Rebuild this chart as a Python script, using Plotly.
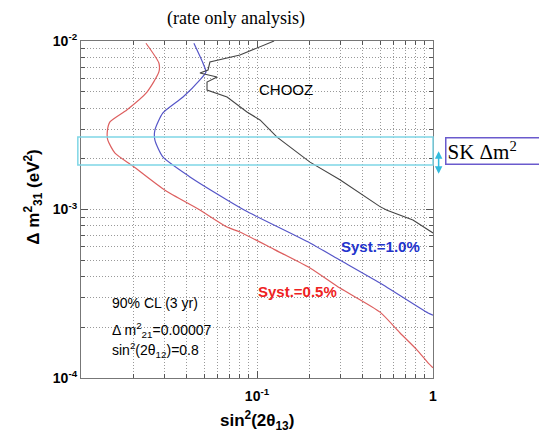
import plotly.graph_objects as go

# ---- data ----
x_red = [0.0234, 0.0277, 0.0277, 0.0237, 0.0182, 0.0146, 0.0141, 0.0142, 0.0156, 0.0197,
         0.030, 0.0474, 0.0676, 0.080, 0.125, 0.20, 0.296, 0.50, 0.65, 0.81, 0.937, 1.0]
y_red = [9.7e-3, 7.4e-3, 6.55e-3, 4.98e-3, 3.9e-3, 3.31e-3, 2.88e-3, 2.58e-3, 2.16e-3, 1.81e-3,
         1.30e-3, 9.93e-4, 7.87e-4, 7.35e-4, 5.8e-4, 4.5e-4, 3.42e-4, 2.46e-4, 1.85e-4, 1.47e-4, 1.23e-4, 1.15e-4]

x_blue = [0.0438, 0.0493, 0.0513, 0.0474, 0.038, 0.0292, 0.0263, 0.0263, 0.0292, 0.0416,
          0.0676, 0.0889, 0.20, 0.296, 0.50, 0.937, 1.0]
y_blue = [9.7e-3, 7.4e-3, 6.55e-3, 5.87e-3, 4.65e-3, 3.74e-3, 2.96e-3, 2.58e-3, 2.05e-3, 1.56e-3,
          1.14e-3, 9.66e-4, 6.33e-4, 5.01e-4, 3.66e-4, 2.43e-4, 2.36e-4]

x_chooz = [0.125, 0.080, 0.054, 0.0527, 0.0474, 0.0593, 0.052, 0.052, 0.0676, 0.0877, 0.104,
           0.130, 0.20, 0.296, 0.50, 0.548, 0.769, 1.0]
y_chooz = [1.0e-2, 8.26e-3, 7.5e-3, 6.73e-3, 6.46e-3, 6.11e-3, 5.71e-3, 5.12e-3, 4.65e-3, 3.79e-3, 3.4e-3,
           2.69e-3, 1.91e-3, 1.5e-3, 1.04e-3, 9.9e-4, 8.67e-4, 7.26e-4]

sk_band = [1.84e-3, 2.69e-3]

x_ticks = [0.1, 1]
x_ticktext = ["<b>10<sup>-1</sup></b>", "<b>1</b>"]
y_ticks = [1e-4, 1e-3, 1e-2]
y_ticktext = ["<b>10<sup>-4</sup></b>", "<b>10<sup>-3</sup></b>", "<b>10<sup>-2</sup></b>"]
x_minor = [m * 10 ** e for e in (-2, -1) for m in range(2, 10)]
y_minor = [m * 10 ** e for e in (-4, -3) for m in range(2, 10)]

RED = "#dd5f5f"
BLUE = "#5555c8"
BLACK = "#444444"
CYAN = "#7fd6e6"
FONT = "Liberation Sans, Arial, sans-serif"
SERIF = "Liberation Serif, Times New Roman, serif"
GRID_DASH = "1px,2px"

fig = go.Figure()
fig.add_trace(go.Scatter(x=x_red, y=y_red, mode="lines",
                         line=dict(color=RED, width=1.2, shape="spline", smoothing=0.6)))
fig.add_trace(go.Scatter(x=x_blue, y=y_blue, mode="lines",
                         line=dict(color=BLUE, width=1.2, shape="spline", smoothing=0.6)))
fig.add_trace(go.Scatter(x=x_chooz, y=y_chooz, mode="lines",
                         line=dict(color=BLACK, width=1.1)))

# SK band
fig.add_shape(type="rect", xref="paper", yref="y", x0=-0.009, x1=1.0,
              y0=sk_band[0], y1=sk_band[1], line=dict(color=CYAN, width=1.5),
              fillcolor="rgba(0,0,0,0)", layer="above")

axis_common = dict(
    type="log", showline=True, linecolor="#777777", linewidth=1.2, mirror="ticks",
    ticks="inside", ticklen=7, tickwidth=1.3, tickcolor="#555555",
    showgrid=True, gridcolor="#999999", griddash=GRID_DASH, gridwidth=1,
    zeroline=False, tickfont=dict(family=FONT, size=14, color="black"),
)
minor_common = dict(tickmode="array", ticks="inside", ticklen=4, tickcolor="#555555",
                    showgrid=True, gridcolor="#999999", griddash=GRID_DASH, gridwidth=1)

fig.update_xaxes(**axis_common, range=[-2, 0], tickmode="array", tickvals=x_ticks,
                 ticktext=x_ticktext, ticklabelstandoff=5,
                 minor=dict(tickvals=x_minor, **minor_common))
fig.update_yaxes(**axis_common, range=[-4, -2], tickmode="array", tickvals=y_ticks,
                 ticktext=y_ticktext, minor=dict(tickvals=y_minor, **minor_common))


def label(text, x, y, size=14, color="black", family=FONT, xanchor="center", **kw):
    return dict(text=text, xref="paper", yref="paper", x=x, y=y, xanchor=xanchor,
                yanchor="middle", showarrow=False,
                font=dict(family=family, size=size, color=color), **kw)


ann = [
    label("(rate only analysis)", 0.44, 1.0, size=18, family=SERIF, yshift=23),
    label("<b>sin<sup>2</sup>(2θ<sub>13</sub>)</b>", 0.5, 0.0, size=17, yshift=-42),
    label("<b>Δ m<sup>2</sup><sub>31</sub> (eV<sup>2</sup>)</b>", -0.136, 0.5, size=17,
          textangle=-90, yshift=12),
    label("CHOOZ", 0.583, 0.856, size=15),
    label("<b>Syst.=1.0%</b>", 0.852, 0.389, size=15, color="#2233cc"),
    label("<b>Syst.=0.5%</b>", 0.614, 0.258, size=15, color="#ee2222"),
    label("90% CL (3 yr)", 0.082, 0.2226, xanchor="left"),
    label("Δ m<sup>2</sup><sub>21</sub>=0.00007", 0.082, 0.1424, xanchor="left"),
    label("sin<sup>2</sup>(2θ<sub>12</sub>)=0.8", 0.082, 0.0831, xanchor="left"),
    label("SK Δm<sup>2</sup>", 1.034, 0.675, size=21, family=SERIF, xanchor="left",
          align="left", width=92, height=23, bordercolor="#6a5acd", borderwidth=1.5,
          borderpad=1, bgcolor="white"),
    # double arrow
    dict(text="", xref="paper", yref="paper", x=1.016, y=0.606, ax=0, ay=-24,
         showarrow=True, arrowhead=2, startarrowhead=2, arrowside="end+start",
         arrowsize=1, arrowwidth=1.5, arrowcolor="#33bbdd"),
]
fig.update_layout(
    width=539, height=432, margin=dict(l=81, r=106, t=41, b=54),
    paper_bgcolor="white", plot_bgcolor="white", showlegend=False,
    annotations=ann,
)
fig.write_html("out.html")
